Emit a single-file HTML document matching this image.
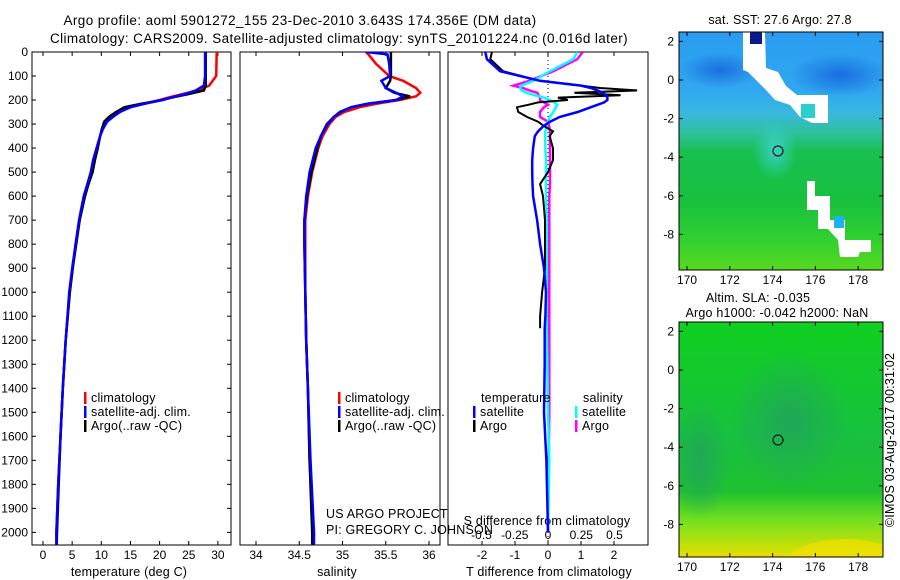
<!DOCTYPE html>
<html><head><meta charset="utf-8">
<style>
html,body{margin:0;padding:0;background:#fff;}
svg{display:block;font-family:"Liberation Sans",sans-serif;}
text{font-size:12px;fill:#000;}
text.w{font-size:13.5px;letter-spacing:0.4px;}
text.m{font-size:12.5px;letter-spacing:0.2px;}
</style></head>
<body>
<svg id="chart" width="900" height="580" viewBox="0 0 900 580">
<defs>
<linearGradient id="sstGrad" x1="0" y1="0" x2="0" y2="1">
<stop offset="0" stop-color="#2a9cf0"/><stop offset="0.25" stop-color="#30a8f0"/>
<stop offset="0.34" stop-color="#38b8e0"/><stop offset="0.42" stop-color="#30c0a0"/>
<stop offset="0.5" stop-color="#18c050"/><stop offset="0.7" stop-color="#18c040"/>
<stop offset="0.87" stop-color="#30d030"/><stop offset="1" stop-color="#58d820"/></linearGradient>
<radialGradient id="sstBlue" cx="0.5" cy="0.5" r="0.5"><stop offset="0" stop-color="#1a6ee0"/><stop offset="1" stop-color="#1a6ee0" stop-opacity="0"/></radialGradient>
<radialGradient id="sstTeal" cx="0.5" cy="0.5" r="0.5"><stop offset="0" stop-color="#38d0c8"/><stop offset="1" stop-color="#38d0c8" stop-opacity="0"/></radialGradient>
<linearGradient id="slaGrad" x1="0" y1="0" x2="0" y2="1">
<stop offset="0" stop-color="#10d020"/><stop offset="0.5" stop-color="#18c040"/>
<stop offset="0.72" stop-color="#20c030"/><stop offset="0.84" stop-color="#70e020"/>
<stop offset="1" stop-color="#e8e000"/></linearGradient>
<radialGradient id="slaDark" cx="0.5" cy="0.5" r="0.5"><stop offset="0" stop-color="#20a858"/><stop offset="1" stop-color="#20a858" stop-opacity="0"/></radialGradient>
<clipPath id="clip1"><rect x="32" y="52" width="199" height="493"/></clipPath>
<clipPath id="clip2"><rect x="240" y="52" width="200" height="493"/></clipPath>
<clipPath id="clip3"><rect x="448" y="52" width="200" height="493"/></clipPath>
<clipPath id="clipM1"><rect x="679" y="32" width="204" height="238"/></clipPath>
<clipPath id="clipM2"><rect x="679" y="322" width="204" height="235"/></clipPath>
</defs>

<text class="w" x="300" y="25" text-anchor="middle">Argo profile: aoml 5901272_155 23-Dec-2010 3.643S 174.356E (DM data)</text>
<text class="w" x="339" y="43" text-anchor="middle">Climatology: CARS2009. Satellite-adjusted climatology: synTS_20101224.nc (0.016d later)</text>

<g id="maps">
<text class="m" x="780" y="24" text-anchor="middle">sat. SST: 27.6 Argo: 27.8</text>
<g clip-path="url(#clipM1)">
<rect x="679" y="32" width="204" height="238" fill="url(#sstGrad)"/>
<ellipse cx="840" cy="75" rx="50" ry="22" fill="url(#sstBlue)"/>
<ellipse cx="720" cy="70" rx="40" ry="18" fill="url(#sstBlue)"/>
<ellipse cx="775" cy="150" rx="22" ry="30" fill="url(#sstTeal)"/>
<polygon points="743,32 765,32 766,68 778,72 786,86 797,95 828,95 828,123 812,123 800,117 790,105 775,100 766,90 756,80 748,72 743,70" fill="#fff"/>
<rect x="750" y="32" width="12" height="12" fill="#0a1a8c"/>
<rect x="801" y="104" width="14" height="14" fill="#2ad0d0"/>
<polygon points="807,181 815,181 815,196 830,196 830,220 845,220 845,240 871,240 871,252 860,252 858,257 840,257 838,240 828,229 818,229 818,210 807,210" fill="#fff"/>
<rect x="834" y="216" width="10" height="12" fill="#20b0f0"/>
</g>
<rect x="679" y="32" width="204" height="238" fill="none" stroke="#000"/>
<circle cx="778" cy="151" r="5" fill="none" stroke="#000"/>

<text class="m" x="758" y="302" text-anchor="middle">Altim. SLA: -0.035</text>
<text class="m" x="777" y="317" text-anchor="middle">Argo h1000: -0.042 h2000: NaN</text>
<g clip-path="url(#clipM2)">
<rect x="679" y="322" width="204" height="235" fill="url(#slaGrad)"/>
<ellipse cx="790" cy="420" rx="60" ry="70" fill="url(#slaDark)"/>
<ellipse cx="700" cy="460" rx="30" ry="60" fill="url(#slaDark)"/>
<ellipse cx="845" cy="565" rx="60" ry="26" fill="#f0e000" opacity="0.75"/>
</g>
<rect x="679" y="322" width="204" height="235" fill="none" stroke="#000"/>
<circle cx="778" cy="440" r="5" fill="none" stroke="#000"/>
<text class="m" transform="translate(894,440) rotate(-90)" text-anchor="middle">©IMOS 03-Aug-2017 00:31:02</text>
</g>

<g id="plots"></g>
</svg>

<script>
// ---------- data ----------
const depthTicks = [0,100,200,300,400,500,600,700,800,900,1000,1100,1200,1300,1400,1500,1600,1700,1800,1900,2000];
const tempTicks = [0,5,10,15,20,25,30];
const salTicks = [34,34.5,35,35.5,36];
const tdiffTicks = [-2,-1,0,1,2];
const sdiffTicks = [-0.5,-0.25,0,0.25,0.5];

const tDepth = [0,100,140,160,175,190,200,215,230,250,270,290,320,350,400,450,500,550,600,700,800,900,1000,1200,1400,1600,1800,2000,2050];
const argoT = [27.9,27.9,27.9,27.6,25,22,20.5,17,14,12.5,11.3,10.5,10.1,9.8,9.4,8.9,8.5,7.8,7.2,6.3,5.7,5.1,4.6,3.9,3.4,3.0,2.7,2.4,2.35];
const climT = [29.8,29.7,28.5,26.5,24,21.5,20,17.5,15,13,11.6,10.8,10.2,9.8,9.2,8.7,8.3,7.7,7.0,6.2,5.6,5.1,4.6,3.9,3.4,3.0,2.6,2.3,2.3];
const satT = [27.8,27.8,27.6,26.2,24.5,22,20.5,17.5,15,13.2,12,11,10.3,9.8,9.2,8.6,8.2,7.6,7.0,6.2,5.6,5.0,4.5,3.9,3.4,3.0,2.6,2.3,2.3];

const sDepth = [0,10,50,100,120,150,170,185,200,215,230,250,270,300,350,400,500,600,700,800,1000,1200,1400,1700,2000,2050];
const argoS = [35.56,35.56,35.56,35.56,35.55,35.5,35.6,35.78,35.62,35.3,35.1,34.97,34.9,34.82,34.75,34.71,34.64,34.59,34.56,34.56,34.57,34.58,34.6,34.62,34.65,34.65];
const climS = [35.27,35.3,35.39,35.54,35.7,35.85,35.9,35.85,35.66,35.4,35.2,35.02,34.92,34.85,34.77,34.72,34.65,34.6,34.57,34.57,34.57,34.58,34.6,34.62,34.66,34.66];
const satS = [35.27,35.52,35.54,35.55,35.45,35.5,35.62,35.7,35.62,35.3,35.1,34.98,34.9,34.83,34.75,34.69,34.62,34.58,34.56,34.56,34.57,34.58,34.6,34.63,34.67,34.67];

const dDepth = [0,30,80,120,140,150,160,170,180,190,200,210,220,230,250,270,290,310,330,350,400,450,500,550,600,700,800,900,1000,1100,1150,1300,1500,1700,2000];
const satTd = [-1.9,-1.85,-1.45,-0.25,1.0,1.3,1.5,1.67,1.75,1.8,1.8,1.7,1.5,1.3,0.9,0.36,0.06,-0.15,-0.3,-0.4,-0.45,-0.48,-0.48,-0.47,-0.45,-0.33,-0.24,-0.12,-0.06,-0.08,-0.1,-0.1,-0.12,-0.05,0];
const cyanSd = [0.22,0.19,0.015,-0.11,-0.2,-0.21,-0.2,-0.16,-0.1,-0.03,0.015,0.05,0.07,0.06,0.04,0.015,0.0,-0.01,-0.02,-0.02,-0.02,-0.015,-0.015,-0.015,-0.015,-0.01,-0.01,-0.01,-0.01,-0.01,-0.01,-0.005,0,0.01,0];
const magSd = [0.26,0.22,0.04,-0.14,-0.26,-0.19,-0.14,-0.08,-0.07,-0.06,-0.06,-0.03,0,-0.03,-0.06,-0.06,0,0.01,0.015,0.015,0.015,0.015,0.015,0.015,0.01,0.01,0.01,0.01,0.01,0.01,0.01,0.01,0.01,0.005,0];
const argoTdDepth = [0,30,80,120,140,150,160,170,180,190,200,210,220,230,250,270,290,310,330,350,400,450,500,550,600,700,800,900,1000,1100,1150];
const argoTd = [-1.7,-1.75,-1.36,-0.24,1.0,1.58,2.7,0.8,2.2,0.3,0.6,-0.3,-0.6,-0.94,-0.9,-0.64,-0.3,-0.1,0.15,0.05,0.15,0.15,0,-0.24,-0.15,-0.09,-0.09,-0.09,-0.18,-0.24,-0.24];

const latTicks = [2,0,-2,-4,-6,-8];
const lonTicks = [170,172,174,176,178];

// ---------- scales ----------
const yD = d => 52 + d*0.2402;
const xT = t => 43 + t*5.83;
const xS = s => 256 + (s-34)*86.5;
const xTd = v => 548 + v*33;
const xSd = v => 548 + v*133;
const lonX = l => 687 + (l-170)*21.4;
const latY1 = l => 80 - l*19.3;
const latY2 = l => 370 - l*19.3;

const NS = 'http://www.w3.org/2000/svg';
const root = document.getElementById('plots');
function mk(tag, attrs, parent){
  const e = document.createElementNS(NS, tag);
  for (const k in attrs) e.setAttribute(k, attrs[k]);
  (parent||root).appendChild(e);
  return e;
}
function txt(x,y,s,anchor,parent,cls){
  const t = mk('text',{x:x,y:y,'text-anchor':anchor||'middle'},parent);
  if (cls) t.setAttribute('class', cls);
  t.textContent = s;
  return t;
}
function line(xs, ds, xf, color, clip, name, w){
  let p = '';
  for (let i=0;i<xs.length;i++) p += (i?'L':'M') + xf(xs[i]).toFixed(1) + ',' + yD(ds[i]).toFixed(1);
  const e = mk('path',{d:p,fill:'none',stroke:color,'stroke-width':w||2.5,'clip-path':'url(#'+clip+')'});
  
  
  return e;
}

const panels = [[32,231,'clip1'],[240,440,'clip2'],[448,648,'clip3']];
panels.forEach((p,i)=>{
  const r = mk('rect',{x:p[0],y:52,width:p[1]-p[0],height:493,fill:'none',stroke:'#000'});
  
  
});

depthTicks.forEach(d=>{
  const y = yD(d);
  mk('line',{x1:32,x2:36,y1:y,y2:y,stroke:'#000'});
  mk('line',{x1:227,x2:231,y1:y,y2:y,stroke:'#000'});
  const t = txt(28, y+4, String(d), 'end');
  
  
});
tempTicks.forEach(v=>{
  const x = xT(v);
  mk('line',{x1:x,x2:x,y1:545,y2:541,stroke:'#000'});
  mk('line',{x1:x,x2:x,y1:52,y2:56,stroke:'#000'});
  const t = txt(x, 559, String(v));
  
  
});
salTicks.forEach(v=>{
  const x = xS(v);
  mk('line',{x1:x,x2:x,y1:545,y2:541,stroke:'#000'});
  mk('line',{x1:x,x2:x,y1:52,y2:56,stroke:'#000'});
  const t = txt(x, 559, String(v));
  
  
});
tdiffTicks.forEach(v=>{
  const x = xTd(v);
  mk('line',{x1:x,x2:x,y1:545,y2:541,stroke:'#000'});
  mk('line',{x1:x,x2:x,y1:52,y2:56,stroke:'#000'});
  const t = txt(x, 559, String(v));
  
  
});
sdiffTicks.forEach(v=>{
  const t = txt(xSd(v), 539, String(v));
  
  
});
const zl = mk('line',{x1:548,x2:548,y1:52,y2:545,stroke:'#000','stroke-dasharray':'1,3'});



[[129,'temperature (deg C)','temperature-axis-title'],[337,'salinity','salinity-axis-title'],[549,'T difference from climatology','t-diff-axis-title']].forEach(a=>{
  const t = txt(a[0], 576, a[1], 'middle', null, 'm');
  
  
});
const sdt = txt(547, 525, 'S difference from climatology', 'middle', null, 'm');



line(climT, tDepth, xT, '#ff0000', 'clip1', 'temp-climatology-line');
line(argoT, tDepth, xT, '#000000', 'clip1', 'temp-argo-line');
line(satT, tDepth, xT, '#0000ff', 'clip1', 'temp-satellite-line');
line(climS, sDepth, xS, '#ff0000', 'clip2', 'sal-climatology-line');
line(argoS, sDepth, xS, '#000000', 'clip2', 'sal-argo-line');
line(satS, sDepth, xS, '#0000ff', 'clip2', 'sal-satellite-line');
line(magSd, dDepth, xSd, '#ff00ff', 'clip3', 's-diff-argo-line');
line(cyanSd, dDepth, xSd, '#00ffff', 'clip3', 's-diff-satellite-line');
line(argoTd, argoTdDepth, xTd, '#000000', 'clip3', 't-diff-argo-line', 2);
line(satTd, dDepth, xTd, '#0000ff', 'clip3', 't-diff-satellite-line');

function legendEntry(x,y,color,label,name){
  const g = mk('g',{});
  
  
  mk('rect',{x:x,y:y-10,width:2.5,height:12,fill:color},g);
  txt(x+7, y, label, 'start', g, 'm');
}
[[84,'p1'],[338,'p2']].forEach(l=>{
  legendEntry(l[0],402,'#ff0000','climatology','legend-climatology-'+l[1]);
  legendEntry(l[0],416,'#0000ff','satellite-adj. clim.','legend-satellite-'+l[1]);
  legendEntry(l[0],430,'#000000','Argo(..raw -QC)','legend-argo-'+l[1]);
});
const lt1 = txt(481,402,'temperature','start',null,'m');


const lt2 = txt(583,402,'salinity','start',null,'m');


legendEntry(473,416,'#0000ff','satellite','legend-t-satellite');
legendEntry(473,430,'#000000','Argo','legend-t-argo');
legendEntry(575,416,'#00ffff','satellite','legend-s-satellite');
legendEntry(575,430,'#ff00ff','Argo','legend-s-argo');

const pr1 = txt(326,518,'US ARGO PROJECT','start',null,'m');


const pr2 = txt(326,534,'PI: GREGORY C. JOHNSON','start',null,'m');



[[latY1,32,270],[latY2,322,557]].forEach(m=>{
  latTicks.forEach(l=>{
    const y = m[0](l);
    mk('line',{x1:679,x2:683,y1:y,y2:y,stroke:'#000'});
    mk('line',{x1:879,x2:883,y1:y,y2:y,stroke:'#000'});
    const t = txt(674, y+4, String(l), 'end');
    
    
  });
  lonTicks.forEach(l=>{
    const x = lonX(l);
    mk('line',{x1:x,x2:x,y1:m[2],y2:m[2]-4,stroke:'#000'});
    mk('line',{x1:x,x2:x,y1:m[1],y2:m[1]+4,stroke:'#000'});
    const t = txt(x, m[2]+14, String(l));
    
    
  });
});
</script>
</body></html>
